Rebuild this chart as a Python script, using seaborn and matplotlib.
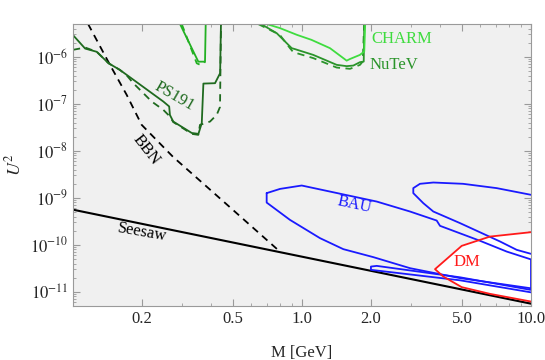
import numpy as np
import matplotlib
matplotlib.use("Agg")
import matplotlib.pyplot as plt
import seaborn as sns

# ---- data (M in GeV, U^2) ----
seesaw_M = [0.1, 10.0]
seesaw_U2 = [5.6e-10, 5.6e-12]

bbn_M = [0.1163, 0.145, 0.1716, 0.1995, 0.2734, 0.461, 0.785]
bbn_U2 = [5.03e-6, 6.76e-7, 1.55e-7, 3.57e-8, 7.45e-9, 7.83e-10, 7.83e-11]

ps191_M = [0.1, 0.113, 0.127, 0.143, 0.160, 0.248, 0.263, 0.265, 0.274,
           0.330, 0.353, 0.365, 0.371, 0.417, 0.439, 0.443]
ps191_U2 = [2.9e-6, 1.5e-6, 1.28e-6, 7.3e-7, 5.3e-7, 1.12e-7, 8.8e-8, 5.8e-8,
            4.2e-8, 2.4e-8, 2.3e-8, 3.9e-8, 2.7e-7, 2.75e-7, 4.5e-7, 6e-6]
ps191_ih_M = [0.1, 0.113, 0.127, 0.143, 0.160, 0.1716, 0.1834, 0.2207, 0.248,
              0.265, 0.274, 0.330, 0.3525, 0.3585, 0.3966, 0.4242, 0.4385, 0.443]
ps191_ih_U2 = [1.41e-6, 1.58e-6, 1.28e-6, 7.3e-7, 5.3e-7, 4.04e-7, 2.75e-7,
               1.12e-7, 7.45e-8, 5.37e-8, 4.1e-8, 2.3e-8, 2.19e-8, 3.57e-8,
               4.2e-8, 5.83e-8, 8.6e-8, 6e-6]

vlow_M = [0.2933, 0.3525, 0.3771, 0.38]
vlow_U2 = [5.0e-6, 7.9e-7, 7.9e-7, 6e-6]
vlow_ih_M = [0.2984, 0.347, 0.3585, 0.372, 0.377]
vlow_ih_U2 = [5.0e-6, 7.3e-7, 6.8e-7, 7.1e-7, 7.9e-7]

nutev_M = [0.662, 0.7755, 0.9016, 0.932, 1.12, 1.417, 1.567, 1.675, 1.792, 1.86, 1.871]
nutev_U2 = [5.0e-6, 3.19e-6, 1.53e-6, 1.46e-6, 1.1e-6, 6.76e-7, 6.34e-7,
            6.53e-7, 7.71e-7, 7.94e-7, 6e-6]
nutev_ih_M = [0.643, 0.80, 0.886, 0.916, 1.12, 1.417, 1.62, 1.792, 1.841, 1.871]
nutev_ih_U2 = [5.0e-6, 2.94e-6, 1.53e-6, 1.26e-6, 9.4e-7, 5.92e-7, 5.56e-7,
               6.76e-7, 7.94e-7, 6e-6]

charm_M = [0.70, 0.80, 0.95, 1.10, 1.325, 1.515, 1.567, 1.62, 1.79, 1.87, 1.89]
charm_U2 = [5.0e-6, 4.1e-6, 2.94e-6, 2.3e-6, 1.53e-6, 9.4e-7, 8.3e-7, 9.0e-7,
            1.1e-6, 1.3e-6, 6e-6]

bau_M = [0.701, 0.8016, 0.997, 2.12, 2.962, 3.874, 4.005, 5.989, 7.83, 10.0,
         10.0, 4.898, 2.962, 2.048, 1.515, 1.198, 0.886, 0.701, 0.701]
bau_U2 = [1.26e-9, 1.55e-9, 1.83e-9, 8.34e-10, 5.12e-10, 3.29e-10, 2.54e-10,
          1.22e-10, 7.2e-11, 4.9e-11,
          1.19e-11, 1.96e-11, 3.19e-11, 5.48e-11, 8.1e-11, 1.39e-10, 3.4e-10,
          7.94e-10, 1.26e-9]

bau2_M = [10.0, 7.083, 5.047, 3.744, 3.275, 3.062, 3.062, 3.386, 3.744, 4.898,
          5.989, 7.321, 8.66, 10.0]
bau2_U2 = [1.16e-9, 1.61e-9, 1.99e-9, 2.12e-9, 1.99e-9, 1.61e-9, 1.26e-9,
           7.71e-10, 5.12e-10, 2.9e-10, 1.85e-10, 1.18e-10, 7.83e-11, 6.44e-11]

bau3_M = [10.0, 4.898, 2.12, 2.0, 2.0, 4.898, 10.0]
bau3_U2 = [1.1e-11, 2.04e-11, 3.57e-11, 3.45e-11, 2.94e-11, 1.76e-11, 9.76e-12]

dm_M = [10.0, 6.622, 4.982, 3.809, 4.14, 4.982, 6.622, 10.0]
dm_U2 = [1.86e-10, 1.5e-10, 9.52e-11, 3.04e-11, 2.12e-11, 1.26e-11, 9.06e-12, 6.22e-12]

x_ticks = [0.2, 0.5, 1.0, 2.0, 5.0, 10.0]
x_ticklabels = ["0.2", "0.5", "1.0", "2.0", "5.0", "10.0"]
y_ticks = [1e-11, 1e-10, 1e-9, 1e-8, 1e-7, 1e-6]
y_ticklabels = [r"$10^{-11}$", r"$10^{-10}$", r"$10^{-9}$", r"$10^{-8}$",
                r"$10^{-7}$", r"$10^{-6}$"]

# ---- style ----
sns.set_style("ticks")
plt.rcParams["font.family"] = ["Liberation Serif", "DejaVu Serif"]
plt.rcParams["mathtext.fontset"] = "stix"

dark = "#1f6a1f"
mid = "#2a942a"
vgreen = "#22b022"
bright = "#3fdc3f"
blue = "#1a1aff"
red = "#ff1a1a"
edge = "#9a9a9a"

fig = plt.figure(figsize=(5.45, 3.6), dpi=100)
ax = fig.add_axes([73 / 545, 54 / 360, 458 / 545, 282 / 360])
ax.set_xscale("log")
ax.set_yscale("log")
ax.set_facecolor("#f0f0f0")
ax.set_xlim(0.1, 10.0)
ax.set_ylim(5.0e-12, 5.0e-6)

ax.fill(dm_M, dm_U2, color="white", zorder=1)


def line(xs, ys, color, lw=1.3, dashes=None):
    sns.lineplot(x=xs, y=ys, sort=False, estimator=None, color=color, lw=lw, ax=ax)
    if dashes is not None:
        ax.lines[-1].set_dashes(dashes)


line(seesaw_M, seesaw_U2, "black", lw=1.5)
line(bbn_M, bbn_U2, "black", dashes=(4, 3))
line(ps191_ih_M, ps191_ih_U2, dark, dashes=(4, 3))
line(ps191_M, ps191_U2, dark)
line(vlow_ih_M, vlow_ih_U2, vgreen, dashes=(4, 3))
line(vlow_M, vlow_U2, vgreen)
line(nutev_ih_M, nutev_ih_U2, mid, dashes=(4, 3))
line(nutev_M, nutev_U2, mid)
line(charm_M, charm_U2, bright)
line(bau_M, bau_U2, blue)
line(bau2_M, bau2_U2, blue)
line(bau3_M, bau3_U2, blue)
line(dm_M, dm_U2, red)

fs = 12
ax.text(0.276, 1.41e-7, "PS191", color=dark, fontsize=fs, rotation=-30,
        ha="center", va="center")
ax.text(0.2084, 1.05e-8, "BBN", color="black", fontsize=fs, rotation=-52,
        ha="center", va="center")
ax.text(0.2001, 1.8e-10, "Seesaw", color="black", fontsize=fs, rotation=-10,
        ha="center", va="center")
ax.text(1.687, 7.1e-10, "BAU", color=blue, fontsize=fs, rotation=-12,
        ha="center", va="center")
ax.text(5.254, 4.35e-11, "DM", color=red, fontsize=fs, ha="center", va="center")
ax.text(2.0, 2.41e-6, "CHARM", color=bright, fontsize=fs, ha="left", va="center")
ax.text(1.962, 6.76e-7, "NuTeV", color=mid, fontsize=fs, ha="left", va="center")

ax.set_xticks(x_ticks)
ax.set_xticklabels(x_ticklabels)
ax.set_yticks(y_ticks)
ax.set_yticklabels(y_ticklabels)
ax.tick_params(which="both", direction="in", top=True, right=True, color=edge,
               labelsize=fs)
ax.tick_params(which="major", length=5)
ax.tick_params(which="minor", length=2.5)
for s in ax.spines.values():
    s.set_color(edge)
ax.set_xlabel("M [GeV]", fontsize=fs, labelpad=13)
ax.set_ylabel(r"$U^2$", fontsize=fs + 1, labelpad=4)

fig.savefig("out.png", dpi=100)
